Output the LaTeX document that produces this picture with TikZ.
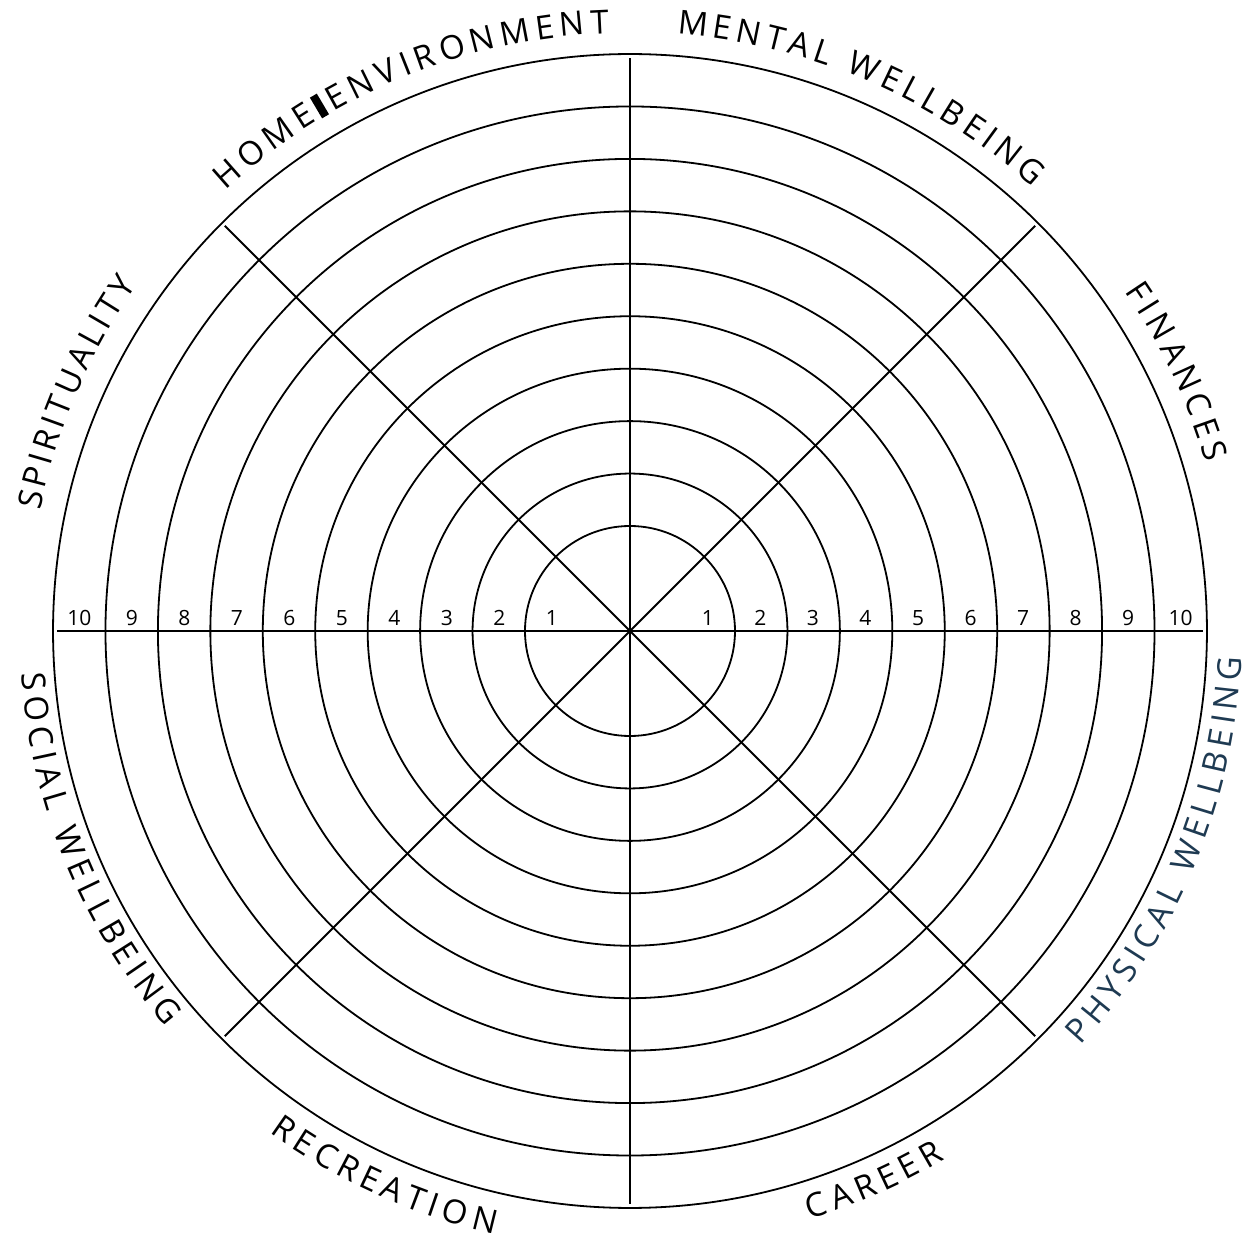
\documentclass[tikz,border=0pt]{standalone}
\usepackage{fontspec}
\setmainfont{Open Sans}
\usetikzlibrary{decorations.text}
\definecolor{physblue}{HTML}{1E3A52}
\newcommand\lblfont{\fontsize{33}{33}\selectfont}
\begin{document}
\begin{tikzpicture}[x=1pt,y=1pt,
  ring/.style={line width=1.8pt},
  spoke/.style={line width=1.8pt},
  num/.style={anchor=south,inner sep=0pt,font=\fontsize{21}{21}\selectfont},
  arctext/.style={decorate,decoration={text along path,text={#1},text align=fit to path}}]
\useasboundingbox (-630,-602) rectangle (617,631);
% rings
\foreach \k in {1,...,10}
  \draw[ring] (0,0) circle[radius={105+52.44*(\k-1)}];
% spokes
\foreach \a in {0,45,...,315}
  \draw[spoke] (0,0) -- (\a:573);
% scale numbers
\foreach \k in {1,...,10}{
  \node[num] (r\k) at ({25.5+52.5*\k},5) {\k};
  \node[num] (l\k) at ({-25.5-52.5*\k},5) {\k};
}
% curved labels (top half: clockwise, bottom half: counter-clockwise)
\path[arctext={|\lblfont|MENTAL WELLBEING}]
  (85.5:599) arc[start angle=85.5,end angle=47.8,radius=599];
\path[arctext={|\lblfont|HOME{\rule{8pt}{24pt}}ENVIRONMENT}]
  (132.5:598) arc[start angle=132.5,end angle=92,radius=598];
\path[arctext={|\lblfont|SPIRITUALITY}]
  (168.5:602) arc[start angle=168.5,end angle=145,radius=602];
\path[arctext={|\lblfont|FINANCES}]
  (34.5:600) arc[start angle=34.5,end angle=16.3,radius=600];
\path[arctext={|\lblfont\color{physblue}|PHYSICAL WELLBEING}]
  (-42.6:612) arc[start angle=-42.6,end angle=-2.5,radius=612];
\path[arctext={|\lblfont|CAREER}]
  (-73:615) arc[start angle=-73,end angle=-59.2,radius=615];
\path[arctext={|\lblfont|RECREATION}]
  (234.3:618) arc[start angle=234.3,end angle=257.3,radius=618];
\path[arctext={|\lblfont|SOCIAL WELLBEING}]
  (184:610) arc[start angle=184,end angle=220.5,radius=610];
\end{tikzpicture}
\end{document}
